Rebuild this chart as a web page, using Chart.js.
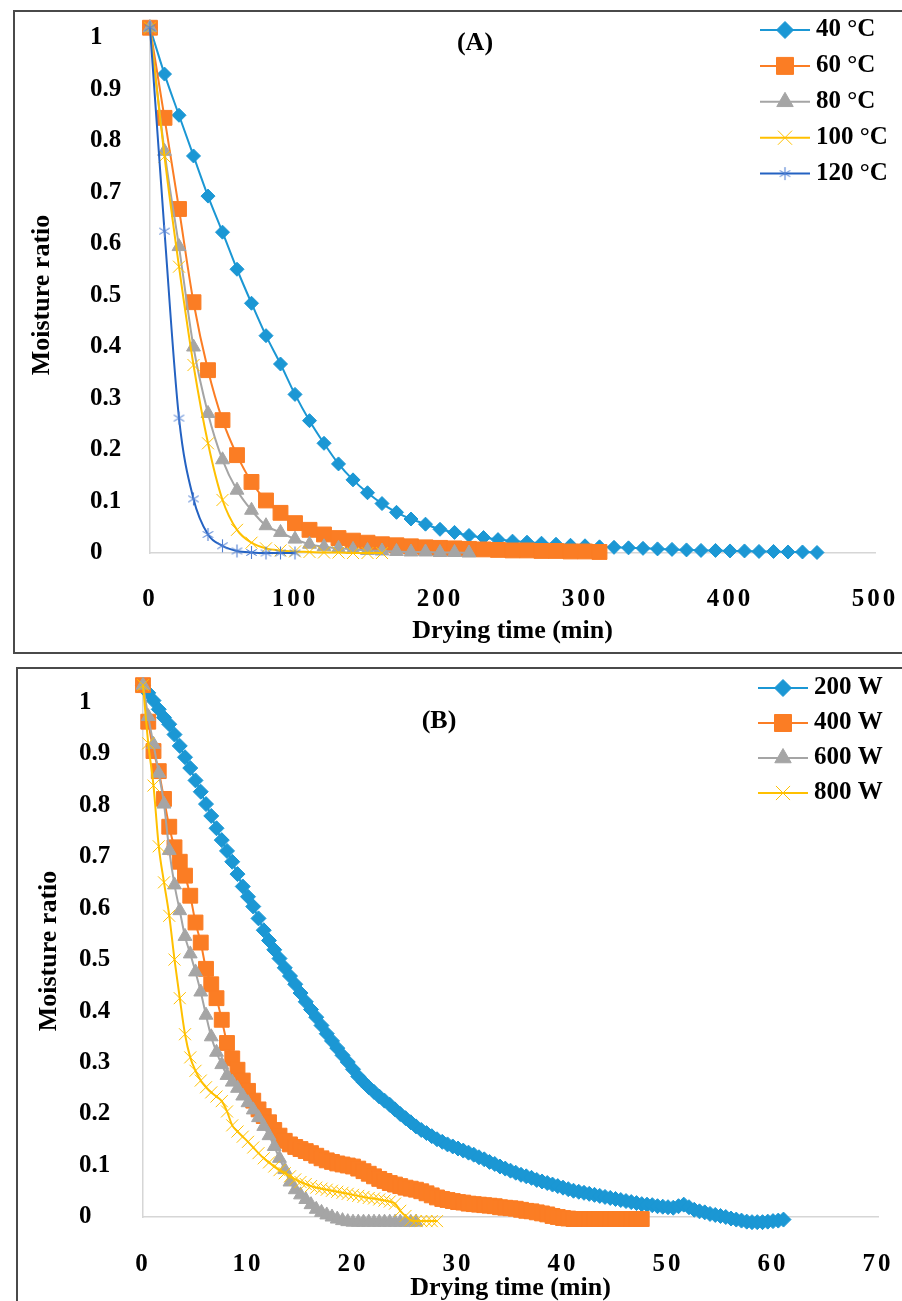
<!DOCTYPE html>
<html>
<head>
<meta charset="utf-8">
<script src="https://cdn.jsdelivr.net/npm/chart.js"></script>
<style>
  html, body { margin: 0; padding: 0; background: #fff; overflow: hidden; }
  body { width: 902px; height: 1301px; position: relative; }
  .frame { position: absolute; border: 2px solid #4a4a4a; }
  #frameA { left: 13px; top: 10px; width: 1000px; height: 640px; }
  #frameB { left: 16px; top: 667px; width: 1000px; height: 1000px; }
  canvas { position: absolute; left: 0; }
  #chartA { top: 0; }
  #chartB { top: 660px; }
</style>
</head>
<body>
<div class="frame" id="frameA"></div>
<div class="frame" id="frameB"></div>
<canvas id="chartA" width="902" height="650"></canvas>
<canvas id="chartB" width="902" height="650"></canvas>
<script>
// ---- data: panel (A), drying temperature ----
const timesA = [0, 10, 20, 30, 40, 50, 60, 70, 80, 90, 100, 110, 120, 130, 140, 150, 160, 170, 180, 190,
  200, 210, 220, 230, 240, 250, 260, 270, 280, 290, 300, 310, 320, 330, 340, 350, 360, 370, 380, 390,
  400, 410, 420, 430, 440, 450, 460];
const labelsA = ['40 °C', '60 °C', '80 °C', '100 °C', '120 °C'];
const mr40 = [1.02, 0.93, 0.85, 0.771, 0.693, 0.623, 0.551, 0.485, 0.422, 0.367, 0.308, 0.257, 0.213, 0.173,
  0.142, 0.117, 0.096, 0.079, 0.066, 0.056, 0.046, 0.040, 0.034, 0.030, 0.026, 0.023, 0.021, 0.019, 0.017,
  0.015, 0.014, 0.012, 0.011, 0.010, 0.009, 0.008, 0.007, 0.006, 0.005, 0.005, 0.004, 0.004, 0.003, 0.003,
  0.002, 0.002, 0.001];
const mr60 = [1.02, 0.845, 0.668, 0.487, 0.355, 0.258, 0.190, 0.138, 0.102, 0.078, 0.058, 0.045, 0.036, 0.029,
  0.024, 0.020, 0.017, 0.015, 0.013, 0.011, 0.010, 0.009, 0.008, 0.007, 0.006, 0.005, 0.005, 0.004, 0.004,
  0.003, 0.003, 0.002];
const mr80 = [1.02, 0.78, 0.595, 0.40, 0.271, 0.181, 0.122, 0.083, 0.053, 0.040, 0.027, 0.017, 0.012, 0.009,
  0.007, 0.005, 0.004, 0.003, 0.002, 0.002, 0.001, 0.001, 0.000];
const mr100 = [1.02, 0.77, 0.556, 0.365, 0.213, 0.103, 0.045, 0.020, 0.009, 0.005, 0.003, 0.002, 0.001, 0.001,
  0.000, 0.000, 0.000];
const mr120 = [1.02, 0.625, 0.262, 0.105, 0.036, 0.014, 0.004, 0.001, 0.000, 0.000, 0.000];

// ---- data: panel (B), microwave power ----
const timesB = [0, 0.5, 1, 1.5, 2, 2.5, 3, 3.5, 4, 4.5, 5, 5.5, 6, 6.5, 7, 7.5, 8, 8.5, 9, 9.5, 10, 10.5, 11,
  11.5, 12, 12.5, 13, 13.5, 14, 14.5, 15, 15.5, 16, 16.5, 17, 17.5, 18, 18.5, 19, 19.5, 20, 20.5, 21, 21.5,
  22, 22.5, 23, 23.5, 24, 24.5, 25, 25.5, 26, 26.5, 27, 27.5, 28, 28.5, 29, 29.5, 30, 30.5, 31, 31.5, 32,
  32.5, 33, 33.5, 34, 34.5, 35, 35.5, 36, 36.5, 37, 37.5, 38, 38.5, 39, 39.5, 40, 40.5, 41, 41.5, 42, 42.5,
  43, 43.5, 44, 44.5, 45, 45.5, 46, 46.5, 47, 47.5, 48, 48.5, 49, 49.5, 50, 50.5, 51, 51.5, 52, 52.5, 53,
  53.5, 54, 54.5, 55, 55.5, 56, 56.5, 57, 57.5, 58, 58.5, 59, 59.5, 60, 60.5, 61];
const labelsB = ['200 W', '400 W', '600 W', '800 W'];
const mr200 = [1.033, 1.018, 1.003, 0.986, 0.970, 0.957, 0.937, 0.915, 0.893, 0.872,
  0.848, 0.826, 0.802, 0.779, 0.755, 0.732, 0.711, 0.690, 0.666, 0.642,
  0.622, 0.603, 0.580, 0.557, 0.537, 0.519, 0.502, 0.484, 0.468, 0.452,
  0.435, 0.418, 0.403, 0.388, 0.372, 0.356, 0.342, 0.328, 0.314, 0.301,
  0.287, 0.273, 0.262, 0.252, 0.243, 0.234, 0.226, 0.218, 0.209, 0.200,
  0.192, 0.184, 0.176, 0.169, 0.163, 0.157, 0.151, 0.146, 0.141, 0.137,
  0.133, 0.129, 0.125, 0.121, 0.116, 0.112, 0.107, 0.103, 0.098, 0.094,
  0.090, 0.086, 0.082, 0.079, 0.076, 0.072, 0.069, 0.066, 0.063, 0.060,
  0.057, 0.054, 0.051, 0.049, 0.047, 0.045, 0.043, 0.041, 0.039, 0.037,
  0.035, 0.033, 0.031, 0.029, 0.027, 0.025, 0.024, 0.023, 0.021, 0.020,
  0.019, 0.018, 0.021, 0.024, 0.019, 0.014, 0.011, 0.009, 0.006, 0.004,
  0.002, 0.000, -0.003, -0.005, -0.007, -0.009, -0.010, -0.010, -0.010, -0.009,
  -0.008, -0.007, -0.005];
const mr400 = [1.033, 0.962, 0.905, 0.866, 0.812, 0.758, 0.718, 0.690, 0.663, 0.624,
  0.572, 0.533, 0.482, 0.452, 0.425, 0.383, 0.338, 0.308, 0.286, 0.265,
  0.245, 0.226, 0.209, 0.196, 0.184, 0.169, 0.158, 0.148, 0.141, 0.136,
  0.132, 0.128, 0.124, 0.119, 0.114, 0.110, 0.107, 0.104, 0.102, 0.100,
  0.098, 0.094, 0.089, 0.084, 0.079, 0.074, 0.070, 0.066, 0.063, 0.060,
  0.057, 0.055, 0.053, 0.050, 0.046, 0.042, 0.038, 0.035, 0.033, 0.031,
  0.029, 0.028, 0.026, 0.025, 0.024, 0.023, 0.022, 0.021, 0.019, 0.018,
  0.017, 0.016, 0.014, 0.012, 0.011, 0.009, 0.007, 0.005, 0.002, 0.000,
  -0.002, -0.003, -0.004, -0.004, -0.004, -0.004, -0.004, -0.004, -0.004, -0.004,
  -0.004, -0.004, -0.004, -0.004, -0.004, -0.004];
const mr600 = [1.033, 0.972, 0.918, 0.862, 0.802, 0.712, 0.645, 0.595, 0.545, 0.511,
  0.476, 0.437, 0.392, 0.350, 0.320, 0.296, 0.275, 0.262, 0.250, 0.235,
  0.222, 0.208, 0.193, 0.176, 0.158, 0.137, 0.114, 0.092, 0.068, 0.053,
  0.043, 0.034, 0.024, 0.015, 0.009, 0.004, 0.000, -0.004, -0.007, -0.009,
  -0.010, -0.010, -0.010, -0.010, -0.010, -0.010, -0.010, -0.010, -0.010, -0.010,
  -0.010, -0.010, -0.010];
const mr800 = [1.033, 0.920, 0.838, 0.720, 0.650, 0.585, 0.500, 0.425, 0.355, 0.310,
  0.284, 0.265, 0.252, 0.242, 0.234, 0.225, 0.205, 0.178, 0.166, 0.156,
  0.146, 0.135, 0.124, 0.114, 0.106, 0.098, 0.091, 0.085, 0.079, 0.073,
  0.068, 0.064, 0.060, 0.057, 0.055, 0.053, 0.051, 0.049, 0.047, 0.045,
  0.043, 0.041, 0.039, 0.037, 0.036, 0.034, 0.032, 0.030, 0.026, 0.012,
  0.002, -0.006, -0.008, -0.008, -0.008, -0.008, -0.008];

const yTicks = [0, 0.1, 0.2, 0.3, 0.4, 0.5, 0.6, 0.7, 0.8, 0.9, 1];

const FONT = '"Liberation Serif", "Times New Roman", serif';
const BLUE = '#1b97d4';
const ORANGE = '#fb7d24';
const GRAY = '#a5a5a5';
const GOLD = '#ffc000';
const DARKBLUE = '#2462c2';

// Excel-like asterisk marker (x with a vertical stroke)
function asteriskMarker(color, size) {
  const c = document.createElement('canvas');
  c.width = c.height = size;
  const g = c.getContext('2d');
  const h = size / 2, r = size / 2 - 1, d = r * 0.8;
  g.strokeStyle = color;
  g.lineWidth = 1.1;
  g.beginPath();
  g.moveTo(h, h - r); g.lineTo(h, h + r);
  g.moveTo(h - d, h - d * 0.6); g.lineTo(h + d, h + d * 0.6);
  g.moveTo(h - d, h + d * 0.6); g.lineTo(h + d, h - d * 0.6);
  g.stroke();
  return c;
}

function toPoints(times, values) {
  return values.map((v, i) => ({ x: times[i], y: v }));
}

// legend, panel tag and y title drawn over the plot like in the original figure
const panelDecor = {
  id: 'panelDecor',
  afterDatasetsDraw(chart, args, opts) {
    const ctx = chart.ctx;
    ctx.save();
    ctx.fillStyle = '#000';
    ctx.textBaseline = 'middle';

    ctx.font = 'bold 26px ' + FONT;
    ctx.textAlign = 'center';
    ctx.fillText(opts.tag, opts.tagX, opts.tagY);

    ctx.save();
    ctx.translate(opts.yTitleX, opts.yTitleY);
    ctx.rotate(-Math.PI / 2);
    ctx.fillText(opts.yTitle, 0, 0);
    ctx.restore();

    ctx.font = 'bold 25px ' + FONT;
    ctx.textAlign = 'left';
    chart.data.datasets.forEach((ds, i) => {
      const y = opts.legendY + i * opts.legendGap;
      const x0 = opts.legendX;
      ctx.strokeStyle = ds.borderColor;
      ctx.lineWidth = 2;
      ctx.beginPath();
      ctx.moveTo(x0, y);
      ctx.lineTo(x0 + 50, y);
      ctx.stroke();
      ctx.fillStyle = ds.pointBackgroundColor;
      ctx.strokeStyle = ds.pointBorderColor;
      ctx.lineWidth = ds.pointBorderWidth;
      Chart.helpers.drawPoint(ctx, {
        pointStyle: ds.pointStyle,
        radius: ds.legendRadius,
        borderWidth: ds.pointBorderWidth,
        rotation: 0
      }, x0 + 25, y);
      ctx.fillStyle = '#000';
      ctx.fillText(ds.label, x0 + 56, y);
    });
    ctx.restore();
  }
};

function makeDataset(label, times, values, color, style, radius, legendRadius) {
  return {
    label: label,
    data: toPoints(times, values),
    borderColor: color,
    backgroundColor: color,
    borderWidth: 2,
    pointStyle: style,
    pointRadius: radius,
    pointHoverRadius: radius,
    pointBackgroundColor: color,
    pointBorderColor: color,
    pointBorderWidth: 1,
    legendRadius: legendRadius,
    cubicInterpolationMode: 'monotone',
    fill: false,
    clip: false
  };
}

function axisFont(size) {
  return { family: FONT, size: size, weight: 'bold' };
}

// x tick labels in the figure are set with a little letter spacing
function spaceOutLabels(scale) {
  if (scale._spaced) return;
  const drawLabels = scale.drawLabels.bind(scale);
  scale.drawLabels = (area) => {
    const ctx = scale.ctx;
    ctx.save();
    ctx.letterSpacing = '3px';
    drawLabels(area);
    ctx.restore();
  };
  scale._spaced = true;
}

function buildOptions(p) {
  return {
    responsive: false,
    animation: false,
    devicePixelRatio: 1,
    layout: { padding: p.padding },
    plugins: {
      legend: { display: false },
      tooltip: { enabled: false },
      panelDecor: p.decor
    },
    scales: {
      x: {
        type: 'linear',
        min: 0,
        max: p.xMax,
        ticks: { stepSize: p.xStep, padding: p.xTickPad, color: '#000', font: axisFont(25), maxRotation: 0 },
        grid: { display: false, drawTicks: false },
        border: { display: true, color: '#d6d6d6', width: 1.5 },
        title: { display: true, text: 'Drying time (min)', color: '#000', font: axisFont(26), padding: 0 },
        afterFit: (s) => {
          // tick padding is meant vertically only; keep the plot as wide as in the figure
          s.height = p.xHeight;
          s.paddingLeft = 0;
          s.paddingRight = 0;
          spaceOutLabels(s);
        }
      },
      y: {
        type: 'linear',
        min: 0,
        max: p.yMax,
        ticks: { stepSize: 0.1, crossAlign: 'far', color: '#000', font: axisFont(25),
          callback: (v) => String(+v.toFixed(1)) },
        grid: { display: false, drawTicks: false },
        border: { display: true, color: '#d6d6d6', width: 1.5 },
        afterBuildTicks: (s) => { s.ticks = yTicks.map((v) => ({ value: v })); },
        afterFit: (s) => { s.width = p.yWidth; }
      }
    }
  };
}

const star120 = asteriskMarker('#4f7fd2', 15);

const datasetsA = [
  makeDataset(labelsA[0], timesA, mr40, BLUE, 'rectRot', 7, 8.5),
  makeDataset(labelsA[1], timesA, mr60, ORANGE, 'rect', 10.5, 12),
  makeDataset(labelsA[2], timesA, mr80, GRAY, 'triangle', 8, 9.5),
  makeDataset(labelsA[3], timesA, mr100, GOLD, 'crossRot', 8.5, 10),
  makeDataset(labelsA[4], timesA, mr120, DARKBLUE, star120, 7.5, 7.5)
];
datasetsA.forEach((d, i) => { d.order = -i; });

const datasetsB = [
  makeDataset(labelsB[0], timesB, mr200, BLUE, 'rectRot', 7.5, 8.5),
  makeDataset(labelsB[1], timesB, mr400, ORANGE, 'rect', 10.5, 12),
  makeDataset(labelsB[2], timesB, mr600, GRAY, 'triangle', 8, 9.5),
  makeDataset(labelsB[3], timesB, mr800, GOLD, 'crossRot', 8.5, 10)
];
datasetsB.forEach((d, i) => { d.order = -i; });

new Chart(document.getElementById('chartA'), {
  type: 'line',
  data: { datasets: datasetsA },
  options: buildOptions({
    padding: { left: 90, right: 27, top: 20, bottom: 3 },
    xMax: 500, xStep: 100, xTickPad: 32, xHeight: 94,
    yMax: 1.035, yWidth: 60,
    decor: {
      tag: '(A)', tagX: 475, tagY: 43,
      yTitle: 'Moisture ratio', yTitleX: 42, yTitleY: 295,
      legendX: 760, legendY: 30, legendGap: 35.9
    }
  }),
  plugins: [panelDecor]
});

new Chart(document.getElementById('chartB'), {
  type: 'line',
  data: { datasets: datasetsB },
  options: buildOptions({
    padding: { left: 79, right: 24, top: 20, bottom: 6 },
    xMax: 70, xStep: 10, xTickPad: 33, xHeight: 87,
    yMax: 1.043, yWidth: 64,
    decor: {
      tag: '(B)', tagX: 439, tagY: 61,
      yTitle: 'Moisture ratio', yTitleX: 49, yTitleY: 291,
      legendX: 758, legendY: 28, legendGap: 35
    }
  }),
  plugins: [panelDecor]
});
</script>
</body>
</html>
